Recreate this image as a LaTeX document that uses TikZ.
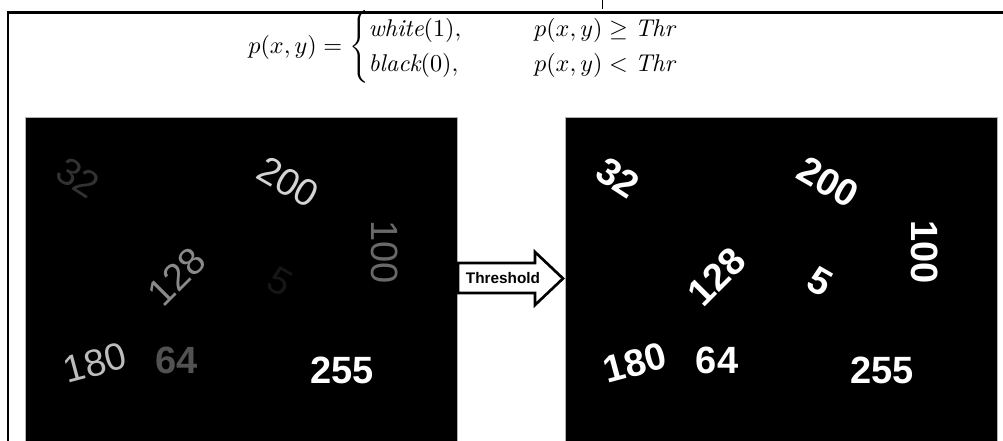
\documentclass[tikz,border=0pt]{standalone}
\usepackage{fontspec}
\usepackage{amsmath}
\usepackage{graphicx}
\newfontfamily\arialfont{Liberation Sans}
\definecolor{v5}{RGB}{22,22,22}
\definecolor{v32}{RGB}{50,50,50}
\definecolor{v64}{RGB}{82,82,82}
\definecolor{v100}{RGB}{105,105,105}
\definecolor{v128}{RGB}{138,138,138}
\definecolor{v180}{RGB}{188,188,188}
\definecolor{v200}{RGB}{212,212,212}
\definecolor{v255}{RGB}{255,255,255}
\begin{document}
\begin{tikzpicture}[x=0.75pt,y=-0.75pt,
  panel/.style={fill=black,draw=gray!60,line width=0.75pt,anchor=north west,
    minimum width=324pt,minimum height=260pt,inner sep=0pt},
  num/.style={font=\arialfont\fontsize{28.5}{28.5}\selectfont,inner sep=0pt},
  numb/.style={font=\arialfont\bfseries\fontsize{28.5}{28.5}\selectfont,inner sep=0pt},
  wnum/.style={numb,text=white},
  frame/.style={line width=1.6pt},
  blockarrow/.style={draw,line width=2pt,fill=white,line join=miter},
]
\useasboundingbox (0,0) rectangle (1003,441);
\fill[white] (0,0) rectangle (1003,441);
% outer frame (cropped)
\draw[frame] (8,470) -- (8,12.5) -- (1015,12.5);
\draw[line width=0.6pt] (602,0) -- (602,9);
% formula
\node[inner sep=0pt] (formula) at (463,47) {\resizebox{322pt}{!}{$p(x,y)=\begin{cases}\mathit{white}(1), & \qquad p(x,y)\geq \mathit{Thr}\\ \mathit{black}(0), & \qquad p(x,y)<\mathit{Thr}\end{cases}$}};
% panels
\node[panel] (left) at (25,117.5) {};
\node[panel] (right) at (565,117.5) {};
% left panel numbers (grey levels)
\node[num,text=v32,rotate=-33] (l32) at (78,178) {32};
\node[num,text=v200,rotate=-30] (l200) at (288,182) {200};
\node[num,text=v100,rotate=-90] (l100) at (385,252) {100};
\node[num,text=v128,rotate=45] (l128) at (177,277) {128};
\node[num,text=v5,rotate=-30] (l5) at (280,282) {5};
\node[num,text=v180,rotate=15] (l180) at (95,363) {180};
\node[numb,text=v64] (l64) at (177,360) {64};
\node[numb,text=v255] (l255) at (342,370) {255};
% right panel numbers (thresholded)
\node[wnum,rotate=-33] (r32) at (618,178) {32};
\node[wnum,rotate=-30] (r200) at (828,182) {200};
\node[wnum,rotate=-90] (r100) at (925,252) {100};
\node[wnum,rotate=45] (r128) at (717,277) {128};
\node[wnum,rotate=-30] (r5) at (820,282) {5};
\node[wnum,rotate=15] (r180) at (635,363) {180};
\node[wnum] (r64) at (717,360) {64};
\node[wnum] (r255) at (882,370) {255};
% threshold arrow
\draw[blockarrow] (458,263) -- (535,263) -- (535,252) -- (563,278.5) -- (535,305) -- (535,293) -- (458,293) -- cycle;
\node[font=\arialfont\bfseries\fontsize{11.5}{12}\selectfont,inner sep=0pt] (thr) at (503,278.5) {Threshold};
\end{tikzpicture}
\end{document}
